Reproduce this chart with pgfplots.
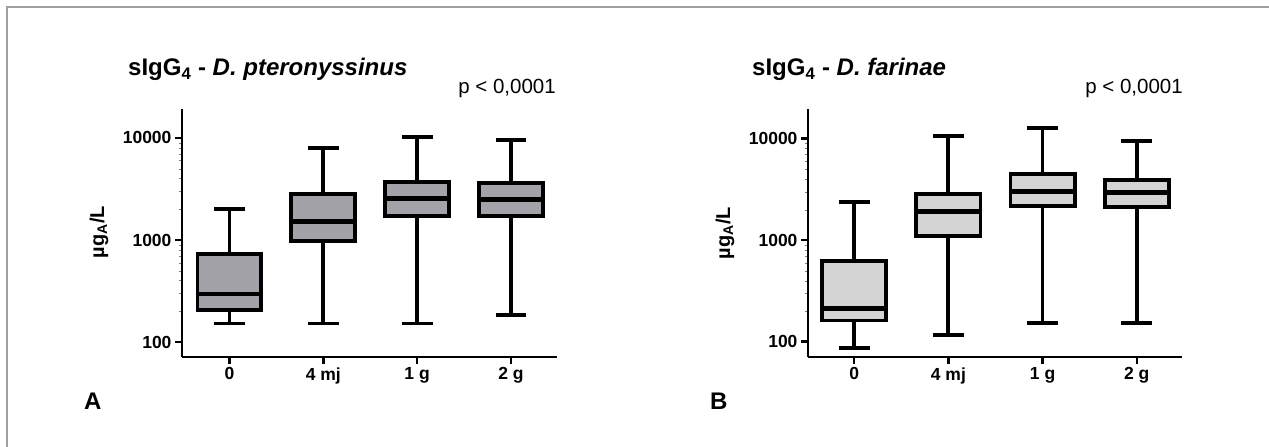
\documentclass[border=0pt]{standalone}
\usepackage{fontspec}
\setmainfont{Liberation Sans}
\usepackage{pgfplots}
\pgfplotsset{compat=1.18}
\usepgfplotslibrary{statistics}

\definecolor{boxA}{RGB}{162,162,168}
\definecolor{boxB}{RGB}{212,212,212}
\definecolor{framegray}{RGB}{160,160,160}

\begin{document}
\begin{tikzpicture}
\useasboundingbox (0,0) rectangle (1269pt,447pt);
\draw[framegray, line width=2pt] (6.5pt,0pt) -- (6.5pt,440pt) -- (1269pt,440pt);

% panel A
\begin{axis}[
    at={(182pt,90pt)}, anchor=south west,
    scale only axis,
    width=375pt, height=248pt,
    axis lines=left,
    axis line style={-, line width=2.5pt},
    ymode=log,
    ymin=71.3, ymax=19230,
    xmin=-0.505, xmax=3.49,
    xtick={0,1,2,3},
    xticklabels={0,4 mj,1 g,2 g},
    ytick={100,1000,10000},
    yticklabels={100,1000,10000},
    tick align=outside,
    major tick length=7pt,
    major tick style={black, line width=2.5pt},
    tick label style={font=\fontsize{17.5}{17.5}\selectfont\bfseries},
    clip=false,
    boxplot/draw direction=y,
    boxplot/box extend=0.68,
    boxplot/whisker extend=0.33,
    boxplot/every median/.style={line width=4.5pt},
]
\addplot[draw=black, line width=3.8pt, fill=boxA, mark=none, boxplot prepared={draw position=0, lower whisker=152, lower quartile=206, median=296, upper quartile=724, upper whisker=2027}] coordinates {};
\addplot[draw=black, line width=3.8pt, fill=boxA, mark=none, boxplot prepared={draw position=1, lower whisker=152, lower quartile=985, median=1525, upper quartile=2825, upper whisker=8035}] coordinates {};
\addplot[draw=black, line width=3.8pt, fill=boxA, mark=none, boxplot prepared={draw position=2, lower whisker=152, lower quartile=1718, median=2541, upper quartile=3704, upper whisker=10300}] coordinates {};
\addplot[draw=black, line width=3.8pt, fill=boxA, mark=none, boxplot prepared={draw position=3, lower whisker=184, lower quartile=1718, median=2506, upper quartile=3646, upper whisker=9490}] coordinates {};
\end{axis}

% panel B
\begin{axis}[
    at={(808pt,90pt)}, anchor=south west,
    scale only axis,
    width=374pt, height=248pt,
    axis lines=left,
    axis line style={-, line width=2.5pt},
    ymode=log,
    ymin=70.7, ymax=19630,
    xmin=-0.49, xmax=3.48,
    xtick={0,1,2,3},
    xticklabels={0,4 mj,1 g,2 g},
    ytick={100,1000,10000},
    yticklabels={100,1000,10000},
    tick align=outside,
    major tick length=7pt,
    major tick style={black, line width=2.5pt},
    tick label style={font=\fontsize{17.5}{17.5}\selectfont\bfseries},
    clip=false,
    boxplot/draw direction=y,
    boxplot/box extend=0.68,
    boxplot/whisker extend=0.33,
    boxplot/every median/.style={line width=4.5pt},
]
\addplot[draw=black, line width=3.8pt, fill=boxB, mark=none, boxplot prepared={draw position=0, lower whisker=86, lower quartile=162, median=213, upper quartile=619, upper whisker=2362}] coordinates {};
\addplot[draw=black, line width=3.8pt, fill=boxB, mark=none, boxplot prepared={draw position=1, lower whisker=116, lower quartile=1092, median=1926, upper quartile=2851, upper whisker=10630}] coordinates {};
\addplot[draw=black, line width=3.8pt, fill=boxB, mark=none, boxplot prepared={draw position=2, lower whisker=152, lower quartile=2172, median=3003, upper quartile=4519, upper whisker=12830}] coordinates {};
\addplot[draw=black, line width=3.8pt, fill=boxB, mark=none, boxplot prepared={draw position=3, lower whisker=152, lower quartile=2123, median=2965, upper quartile=3945, upper whisker=9420}] coordinates {};
\end{axis}

% texts
\node[anchor=base west, inner sep=0, font=\fontsize{24}{24}\selectfont\bfseries] at (128pt,371pt) {sIgG\textsubscript{4} - \textit{D. pteronyssinus}};
\node[anchor=base west, inner sep=0, font=\fontsize{24}{24}\selectfont\bfseries] at (752pt,371pt) {sIgG\textsubscript{4} - \textit{D. farinae}};
\node[anchor=base east, inner sep=0, font=\fontsize{20.5}{20.5}\selectfont] at (556pt,353pt) {p < 0,0001};
\node[anchor=base east, inner sep=0, font=\fontsize{20.5}{20.5}\selectfont] at (1183pt,353pt) {p < 0,0001};
\node[rotate=90, inner sep=0, font=\fontsize{20}{20}\selectfont\bfseries] at (99pt,215pt) {µg\textsubscript{A}/L};
\node[rotate=90, inner sep=0, font=\fontsize{20}{20}\selectfont\bfseries] at (725pt,214pt) {µg\textsubscript{A}/L};
\node[anchor=base west, inner sep=0, font=\fontsize{24}{24}\selectfont\bfseries] at (84pt,37pt) {A};
\node[anchor=base west, inner sep=0, font=\fontsize{24}{24}\selectfont\bfseries] at (710pt,37pt) {B};
\end{tikzpicture}
\end{document}
